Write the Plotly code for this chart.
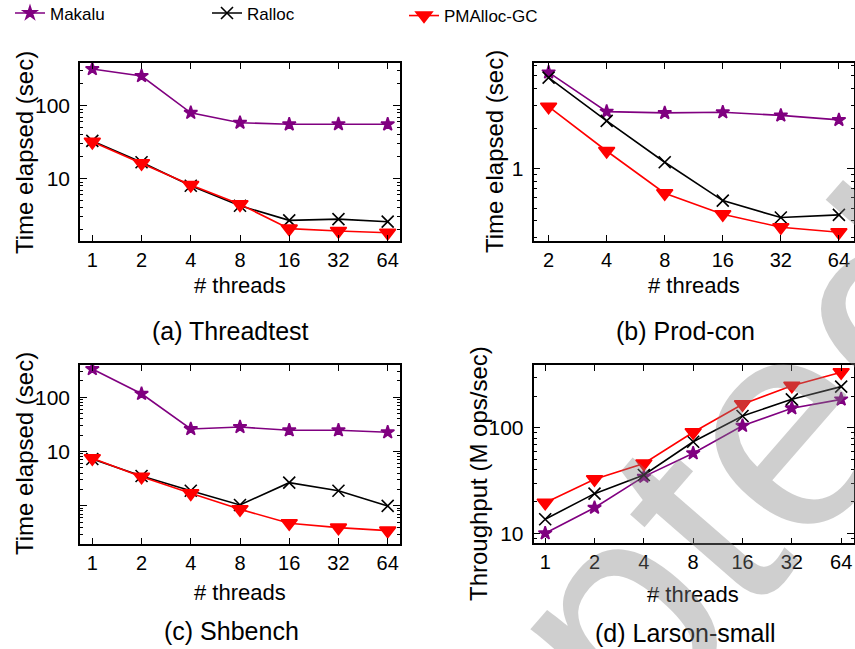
import plotly.graph_objects as go
import math

# ---------------- data ----------------
threads = [1, 2, 4, 8, 16, 32, 64]
threads_b = [2, 4, 8, 16, 32, 64]
tick_labels = ["1", "2", "4", "8", "16", "32", "64"]
tick_labels_b = ["2", "4", "8", "16", "32", "64"]

series_names = ["Makalu", "Ralloc", "PMAlloc-GC"]

a_makalu = [318, 255, 80, 58.5, 55.6, 56, 55.6]
a_ralloc = [33, 16.8, 8.0, 4.27, 2.69, 2.8, 2.58]
a_pmalloc = [32, 16.3, 8.2, 4.46, 2.07, 1.92, 1.82]

b_makalu = [5.31, 2.68, 2.62, 2.65, 2.51, 2.32]
b_ralloc = [4.84, 2.28, 1.11, 0.569, 0.424, 0.444]
b_pmalloc = [2.92, 1.35, 0.647, 0.449, 0.358, 0.328]

c_makalu = [333, 116, 26, 28.3, 24.6, 24.6, 22.6]
c_ralloc = [7.27, 3.53, 1.89, 1.03, 2.66, 1.89, 0.99]
c_pmalloc = [7.5, 3.43, 1.69, 0.86, 0.473, 0.393, 0.346]

d_makalu = [10, 17.5, 34.5, 57.5, 105, 154, 187]
d_ralloc = [13.6, 23.8, 35.8, 74, 130, 187, 247]
d_pmalloc = [19.5, 32.6, 46, 91, 168, 252, 338]

captions = ["(a) Threadtest", "(b) Prod-con", "(c) Shbench", "(d) Larson-small"]
ytitles = ["Time elapsed (sec)", "Time elapsed (sec)", "Time elapsed (sec)",
           "Throughput (M ops/sec)"]
xtitle = "# threads"

# ---------------- styling ----------------
W, H = 855, 649
FONT = "Liberation Sans, Arial, Helvetica, sans-serif"
PURPLE = "#800080"
styles = [
    dict(color=PURPLE, symbol="star", size=10, lw=1.6),
    dict(color="black", symbol="x-thin-open", size=12, lw=1.6),
    dict(color="red", symbol="triangle-down", size=14, lw=1.6),
]


def px_x(p):
    return p / W


def px_y(p):
    return 1 - p / H


fig = go.Figure()

panels = [
    dict(x=threads, xt=tick_labels, ys=[a_makalu, a_ralloc, a_pmalloc],
         xd=(80, 400), yd=(63, 241), xr=(-0.25, 6.25), yr=(0.147, 2.585),
         yt=[10, 100], ytt=["10", "100"]),
    dict(x=threads_b, xt=tick_labels_b, ys=[b_makalu, b_ralloc, b_pmalloc],
         xd=(533.5, 854), yd=(62.7, 241), xr=(0.74, 6.26), yr=(-0.55, 0.798),
         yt=[1], ytt=["1"]),
    dict(x=threads, xt=tick_labels, ys=[c_makalu, c_ralloc, c_pmalloc],
         xd=(80, 400), yd=(365, 544), xr=(-0.25, 6.25), yr=(-0.707, 2.596),
         yt=[1, 10, 100], ytt=["", "10", "100"]),
    dict(x=threads, xt=tick_labels, ys=[d_makalu, d_ralloc, d_pmalloc],
         xd=(533.5, 854), yd=(365, 543.3), xr=(-0.237, 6.26), yr=(0.905, 2.598),
         yt=[10, 100], ytt=["10", "100"]),
]

legend_ids = ["legend", "legend2", "legend3"]

for i, p in enumerate(panels):
    sfx = "" if i == 0 else str(i + 1)
    for k, (vals, st) in enumerate(zip(p["ys"], styles)):
        fig.add_trace(go.Scatter(
            x=p["x"], y=vals, mode="lines+markers", name=series_names[k],
            xaxis="x" + sfx, yaxis="y" + sfx,
            line=dict(color=st["color"], width=st["lw"]),
            marker=dict(symbol=st["symbol"], size=st["size"], color=st["color"],
                        line=dict(color=st["color"], width=1.6)),
            showlegend=(i == 0), legend=legend_ids[k],
        ))
    lo, hi = math.floor(p["yr"][0]), math.ceil(p["yr"][1])
    minor_vals = [m * 10 ** e for e in range(lo, hi + 1) for m in range(2, 10)]
    log2 = math.log10(2)
    fig.update_layout({
        "xaxis" + sfx: dict(
            type="log", domain=[px_x(p["xd"][0]), px_x(p["xd"][1])],
            range=[p["xr"][0] * log2, p["xr"][1] * log2],
            anchor="y" + sfx, tickmode="array", tickvals=p["x"], ticktext=p["xt"],
            ticks="inside", ticklen=6, tickwidth=1.2, tickcolor="black",
            showline=True, linecolor="black", linewidth=1.6, mirror="ticks",
            showgrid=False, zeroline=False, ticklabelstandoff=0,
            tickfont=dict(family=FONT, size=20, color="black"),
        ),
        "yaxis" + sfx: dict(
            type="log", domain=[px_y(p["yd"][1]), px_y(p["yd"][0])],
            range=list(p["yr"]), anchor="x" + sfx,
            tickmode="array", tickvals=p["yt"], ticktext=p["ytt"],
            ticks="inside", ticklen=7, tickwidth=1.2, tickcolor="black",
            minor=dict(ticks="inside", ticklen=3.5, tickwidth=1, tickcolor="black",
                       tickmode="array", tickvals=minor_vals),
            showline=True, linecolor="black", linewidth=1.6, mirror="ticks",
            showgrid=False, zeroline=False, ticklabelstandoff=4,
            tickfont=dict(family=FONT, size=21, color="black"),
        ),
    })

annotations = []
# captions
cap_pos = [(230, 331), (685, 331), (232, 631), (685, 633)]
for t, (cx, cy) in zip(captions, cap_pos):
    annotations.append(dict(text=t, x=px_x(cx), y=px_y(cy), xref="paper", yref="paper",
                            showarrow=False, xanchor="center", yanchor="middle",
                            font=dict(family=FONT, size=25, color="black")))
# x titles
xt_pos = [(240, 285), (694, 285), (240, 592), (693, 594)]
for (cx, cy) in xt_pos:
    annotations.append(dict(text=xtitle, x=px_x(cx), y=px_y(cy), xref="paper", yref="paper",
                            showarrow=False, xanchor="center", yanchor="middle",
                            font=dict(family=FONT, size=22, color="black")))
# y titles
yt_pos = [(24, 153), (495, 152), (24, 454), (478, 474)]
for t, (cx, cy) in zip(ytitles, yt_pos):
    annotations.append(dict(text=t, x=px_x(cx), y=px_y(cy), xref="paper", yref="paper",
                            showarrow=False, xanchor="center", yanchor="middle",
                            textangle=-90,
                            font=dict(family=FONT, size=24, color="black")))
# watermark
annotations.append(dict(text="Accepted", x=px_x(532), y=px_y(712), xref="paper", yref="paper",
                        showarrow=False, xanchor="center", yanchor="middle", textangle=-49,
                        font=dict(family=FONT, size=300, color="rgba(130,130,130,0.38)")))

leg_common = dict(orientation="h", xanchor="left", yanchor="top", yref="paper",
                  bgcolor="rgba(0,0,0,0)", borderwidth=0,
                  font=dict(family=FONT, size=17, color="black"))
fig.update_layout(
    width=W, height=H,
    margin=dict(l=0, r=0, t=0, b=0, autoexpand=False),
    paper_bgcolor="white", plot_bgcolor="white",
    annotations=annotations,
    legend=dict(x=px_x(10), y=px_y(-4.5), **leg_common),
    legend2=dict(x=px_x(207), y=px_y(-4.5), **leg_common),
    legend3=dict(x=px_x(404), y=px_y(-2), **leg_common),
)

fig.write_html("out.html")
